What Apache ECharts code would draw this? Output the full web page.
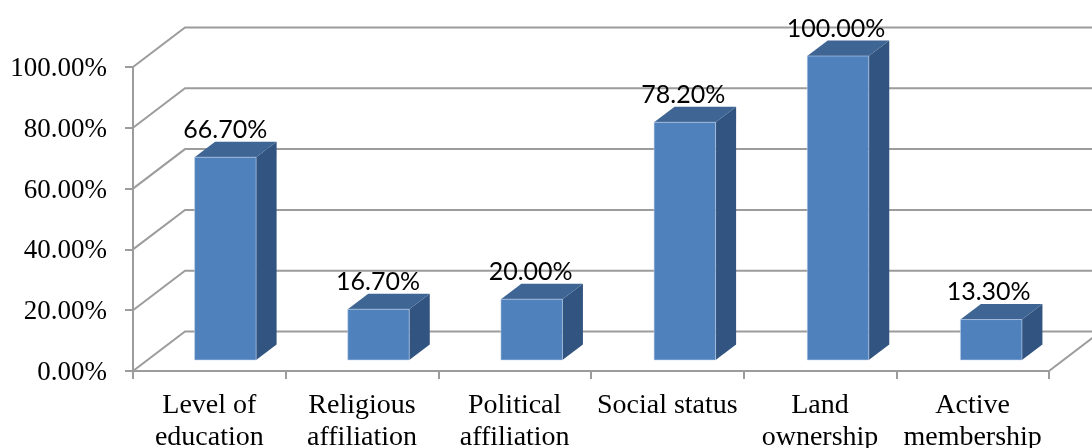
<!DOCTYPE html>
<html>
<head>
<meta charset="utf-8">
<style>html,body{margin:0;padding:0;background:#fff}#chart{width:1092px;height:448px}</style>
<script src="https://cdn.jsdelivr.net/npm/echarts@6/dist/echarts.min.js"></script>
</head>
<body>
<div id="chart"></div>
<script>
const categories = ['Level of\neducation', 'Religious\naffiliation', 'Political\naffiliation', 'Social status', 'Land\nownership', 'Active\nmembership'];
const shares = [66.7, 16.7, 20.0, 78.2, 100.0, 13.3];
const yTicks = [0, 20, 40, 60, 80, 100];

// Oblique projection of the pseudo-3D box: wall depth, bar depth, and bar inset from the axis plane
const WALL = [52, -39.5];
const DEPTH = [20.5, -15.5];
const INSET = [16, -11];
// Bars sit on a slightly wider pitch than the axis bands
const BAR_DRIFT = 0.5;
const GRID_LINE = '#9c9c9c';

const chart = echarts.init(document.getElementById('chart'), null, { renderer: 'canvas' });

function renderWall(params, api) {
  const v = api.value(1);
  const y = api.coord([0, v])[1];
  const cs = params.coordSys;
  const left = cs.x, right = cs.x + cs.width;
  const back = [[left, y], [left + WALL[0], y + WALL[1]], [right + WALL[0], y + WALL[1]]];
  const children = [{
    type: 'polyline',
    shape: { points: back },
    style: { stroke: GRID_LINE, lineWidth: 2, fill: null }
  }];
  if (v === 0) {
    children.push({
      type: 'line',
      shape: { x1: right, y1: y, x2: right + WALL[0], y2: y + WALL[1] },
      style: { stroke: GRID_LINE, lineWidth: 2 }
    });
  }
  return { type: 'group', children };
}

function renderBar(params, api) {
  const idx = api.value(0), v = api.value(1);
  const top = api.coord([idx, v]);
  const base = api.coord([idx, 0]);
  const w = api.size([1, 0])[0] * 0.403;
  const x0 = top[0] - w / 2 + INSET[0] + idx * BAR_DRIFT, x1 = x0 + w;
  const yT = top[1] + INSET[1], yB = base[1] + INSET[1];
  const dx = DEPTH[0], dy = DEPTH[1];
  return {
    type: 'group',
    children: [
      { type: 'polygon', shape: { points: [[x1, yT], [x1 + dx, yT + dy], [x1 + dx, yB + dy], [x1, yB]] }, style: { fill: '#325480' } },
      { type: 'polygon', shape: { points: [[x0, yT], [x0 + dx, yT + dy], [x1 + dx, yT + dy], [x1, yT]] }, style: { fill: '#3e6593' } },
      { type: 'rect', shape: { x: x0, y: yT, width: w, height: yB - yT }, style: { fill: '#4f81bd', stroke: 'rgba(200,215,238,0.55)', lineWidth: 1 } },
      {
        type: 'text',
        style: {
          x: top[0] + INSET[0], y: yT + dy - 12,
          text: v.toFixed(2) + '%',
          fill: '#000', font: '25px Lato',
          align: 'center', verticalAlign: 'middle'
        }
      }
    ]
  };
}

chart.setOption({
  animation: false,
  backgroundColor: '#fff',
  grid: { left: 133, width: 916, top: 67, height: 304, outerBoundsMode: 'none' },
  xAxis: {
    type: 'category',
    data: categories,
    axisLine: { lineStyle: { color: GRID_LINE, width: 2 } },
    axisTick: { show: true, length: 8, lineStyle: { color: GRID_LINE, width: 2 } },
    axisLabel: { color: '#000', fontFamily: 'Liberation Serif', fontSize: 28, lineHeight: 32, margin: 19, interval: 0 }
  },
  yAxis: {
    type: 'value',
    min: 0,
    max: 100,
    interval: 20,
    axisLine: { show: true, lineStyle: { color: GRID_LINE, width: 2 } },
    axisTick: { show: true, length: 8, lineStyle: { color: GRID_LINE, width: 2 } },
    splitLine: { show: false },
    axisLabel: {
      margin: 26,
      formatter: v => '{t|' + v.toFixed(2) + '%}',
      rich: { t: { color: '#000', fontFamily: 'Liberation Serif', fontSize: 27, padding: [4, 0, 0, 0] } }
    }
  },
  series: [
    { type: 'custom', name: 'Walls', clip: false, z: 1, silent: true, renderItem: renderWall, encode: { x: 0, y: 1 }, data: yTicks.map(t => [0, t]) },
    { type: 'custom', name: 'Share', clip: false, z: 2, silent: true, renderItem: renderBar, encode: { x: 0, y: 1 }, data: shares.map((s, i) => [i, s]) }
  ]
});
</script>
</body>
</html>
